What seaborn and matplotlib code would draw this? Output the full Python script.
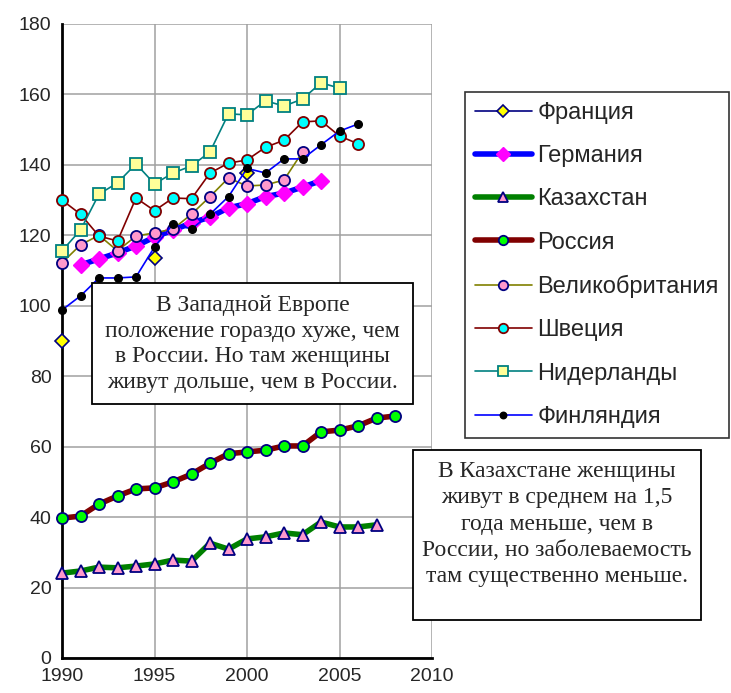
import numpy as np
import pandas as pd
import matplotlib
matplotlib.use("Agg")
import matplotlib.pyplot as plt
from matplotlib.lines import Line2D
from matplotlib.patches import Rectangle
import seaborn as sns

# ---- data ----
years_fr = [1990, 1995, 2000]
france = [90, 113.5, 137.7]

years_de = list(range(1991, 2005))
germany = [111.6, 113.3, 115.0, 117.0, 119.5, 121.5, 123.5, 125.2, 127.8, 129.0, 131.0, 132.0, 133.7, 135.5]

years_kz = list(range(1990, 2008))
kazakhstan = [24.1, 24.7, 25.8, 25.6, 26.1, 26.7, 27.8, 27.5, 32.6, 30.9, 33.8, 34.4, 35.5, 35.0, 38.6, 37.2, 37.2, 37.8]

years_ru = list(range(1990, 2009))
russia = [39.7, 40.3, 43.7, 46.0, 48.0, 48.3, 50.0, 52.2, 55.3, 58.0, 58.5, 59.0, 60.2, 60.2, 64.2, 64.7, 65.9, 68.1, 68.7]

years_uk = list(range(1990, 2004))
uk = [112.2, 117.3, 120.0, 115.6, 119.8, 120.7, 121.8, 126.0, 131.0, 136.3, 134.0, 134.3, 135.7, 143.7]

years_se = list(range(1990, 2007))
sweden = [130.0, 126.0, 119.8, 118.4, 130.6, 127.0, 130.6, 130.4, 137.7, 140.5, 141.4, 145.0, 147.0, 152.2, 152.5, 148.2, 146.0]

years_nl = list(range(1990, 2006))
netherlands = [115.6, 121.5, 131.7, 134.9, 140.3, 134.6, 137.7, 139.7, 143.7, 154.5, 154.2, 158.2, 156.7, 158.7, 163.3, 161.8]

years_fi = list(range(1990, 2007))
finland = [98.8, 102.8, 107.9, 107.9, 108.2, 116.7, 123.2, 121.8, 126.0, 131.0, 139.0, 137.7, 141.7, 141.7, 145.7, 149.6, 151.6]

labels = ["Франция", "Германия", "Казахстан", "Россия", "Великобритания", "Швеция", "Нидерланды", "Финляндия"]
text1 = "В Западной Европе\nположение гораздо хуже, чем\nв России. Но там женщины\nживут дольше, чем в России."
text2 = "В Казахстане женщины\nживут в среднем на 1,5\nгода меньше, чем в\nРоссии, но заболеваемость\nтам существенно меньше."

sns.set_style("white")
plt.rcParams['font.family'] = ['Liberation Sans', 'DejaVu Sans']

W, H = 731, 693
fig = plt.figure(figsize=(W / 100, H / 100), dpi=100)
ax = fig.add_axes([62 / W, 1 - 658 / H, (432 - 62) / W, (658 - 24) / H])

styles = [
    dict(x=years_fr, y=france, color="#000080", lw=1.2, marker="D", ms=7, mfc="#FFFF00", mec="#000080", mew=1.2),
    dict(x=years_de, y=germany, color="#0000FF", lw=4, marker="D", ms=8, mfc="#FF00FF", mec="#FF00FF", mew=1),
    dict(x=years_kz, y=kazakhstan, color="#008000", lw=4, marker="^", ms=9, mfc="#FF99CC", mec="#000080", mew=1.3),
    dict(x=years_ru, y=russia, color="#800000", lw=4, marker="o", ms=8, mfc="#00FF00", mec="#000080", mew=1.3),
    dict(x=years_uk, y=uk, color="#808000", lw=1.2, marker="o", ms=8, mfc="#FF99CC", mec="#000080", mew=1.3),
    dict(x=years_se, y=sweden, color="#800000", lw=1.2, marker="o", ms=8, mfc="#00FFFF", mec="#800000", mew=1.3),
    dict(x=years_nl, y=netherlands, color="#008080", lw=1.2, marker="s", ms=8.5, mfc="#FFFF99", mec="#008080", mew=1.3),
    dict(x=years_fi, y=finland, color="#0000FF", lw=1.2, marker="o", ms=5.5, mfc="#000000", mec="#000000", mew=1),
]

handles = []
for i, (st, lab) in enumerate(zip(styles, labels)):
    ls = "none" if i == 0 else "-"
    sns.lineplot(x=st["x"], y=st["y"], ax=ax, color=st["color"], linewidth=st["lw"],
                 linestyle=ls, marker=st["marker"], markersize=st["ms"],
                 markerfacecolor=st["mfc"], markeredgecolor=st["mec"],
                 markeredgewidth=st["mew"], zorder=3 + i, clip_on=False)
    handles.append(Line2D([0], [0], color=st["color"], lw=st["lw"], marker=st["marker"],
                          markersize=st["ms"] * 0.85, markerfacecolor=st["mfc"],
                          markeredgecolor=st["mec"], markeredgewidth=st["mew"]))

ax.set_xlim(1990, 2010)
ax.set_ylim(0, 180)
ax.set_xticks(range(1990, 2011, 5))
ax.set_yticks(range(0, 181, 20))
ax.grid(True, color="#A0A0A0", lw=1.1)
ax.set_axisbelow(True)
for s in ["top", "right"]:
    ax.spines[s].set_visible(False)
for s in ["left", "bottom"]:
    ax.spines[s].set_color("black")
    ax.spines[s].set_linewidth(2)
    ax.spines[s].set_zorder(2.5)
ax.tick_params(axis="both", direction="inout", length=7, width=1.3, color="black",
               labelsize=14)
ax.tick_params(axis="y", pad=4)
ax.tick_params(axis="x", pad=4)
ax.set_xlabel("")
ax.set_ylabel("")

leg = fig.legend(handles, labels, loc="upper left",
                 bbox_to_anchor=(465 / W, 1 - 92 / H), frameon=True, fancybox=False,
                 fontsize=17, handlelength=2.4, handletextpad=0.25, labelspacing=0.9,
                 borderpad=0.42, borderaxespad=0)
leg.get_frame().set_edgecolor("black")
leg.get_frame().set_linewidth(1.2)

# text boxes
def box(x0, y0, x1, y1):
    r = Rectangle((x0 / W, 1 - y1 / H), (x1 - x0) / W, (y1 - y0) / H,
                  transform=fig.transFigure, facecolor="white", edgecolor="black",
                  lw=1.3, zorder=20)
    fig.patches.append(r)

box(92, 283, 413, 404)
fig.text((92 + 413) / 2 / W, 1 - 344 / H, text1, ha="center", va="center",
         family=["Liberation Serif", "DejaVu Serif"], fontsize=17, linespacing=1.28, zorder=21)
box(413, 450, 701, 620)
fig.text((413 + 701) / 2 / W, 1 - 461 / H, text2, ha="center", va="top",
         family=["Liberation Serif", "DejaVu Serif"], fontsize=17, linespacing=1.33, zorder=21)

fig.savefig("out.png", dpi=100)
